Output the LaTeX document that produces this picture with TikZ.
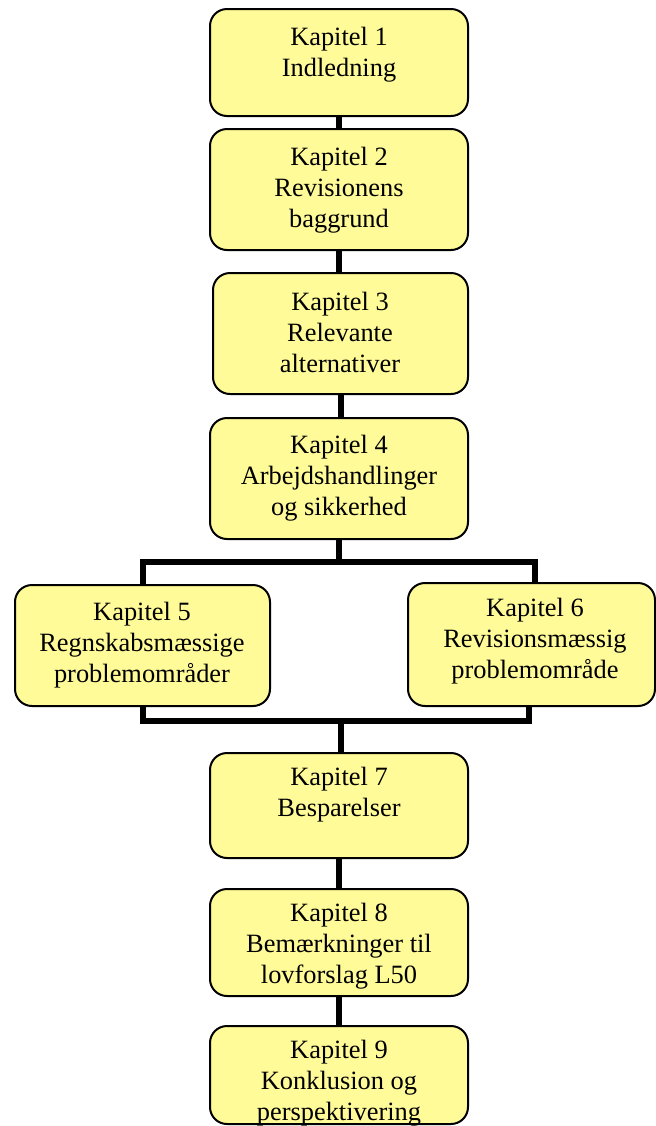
\documentclass[tikz,border=0pt]{standalone}
\usepackage{fontspec}
\setmainfont{Liberation Serif}
\definecolor{boxfill}{RGB}{255,251,153}
\tikzset{
  chbox/.style={draw=black, line width=1pt, fill=boxfill, rounded corners=8.5pt, inner sep=0pt},
  chtext/.style={anchor=north, align=center, inner sep=0pt, font=\fontsize{13.2}{15.5}\selectfont},
  conn/.style={line width=3pt, line join=miter}
}
\begin{document}
\begin{tikzpicture}[x=0.5pt,y=-0.5pt]
\useasboundingbox (0,0) rectangle (656,1126);
% boxes
\node[chbox, minimum width=129pt, minimum height=53.5pt] (B1) at (339,62.5) {};
\node[chbox, minimum width=129pt, minimum height=60.5pt] (B2) at (339,189.5) {};
\node[chbox, minimum width=127.5pt, minimum height=60.5pt] (B3) at (340.5,333.5) {};
\node[chbox, minimum width=129pt, minimum height=60.5pt] (B4) at (339,478.5) {};
\node[chbox, minimum width=127.5pt, minimum height=60.5pt] (B5) at (142.5,645.5) {};
\node[chbox, minimum width=123.5pt, minimum height=61.5pt] (B6) at (531.5,644.5) {};
\node[chbox, minimum width=129pt, minimum height=52.5pt] (B7) at (339,805.5) {};
\node[chbox, minimum width=129pt, minimum height=53.5pt] (B8) at (339,942.5) {};
\node[chbox, minimum width=129pt, minimum height=49pt] (B9) at (339,1075) {};
% connectors
\coordinate (J1) at (339,562);
\coordinate (J2) at (341,721);
\draw[conn] (B1.south) -- (B2.north);
\draw[conn] (B2.south) -- (B2.south |- B3.north);
\draw[conn] (B3.south) -- (B3.south |- B4.north);
\draw[conn] (B4.south) -- (J1);
\draw[conn] (B5.north) |- (J1) -| ([xshift=1.75pt]B6.north);
\draw[conn] (B5.south) |- (J2) -| ([xshift=-1.25pt]B6.south);
\draw[conn] (J2) -- (J2 |- B7.north);
\draw[conn] (B7.south) -- (B8.north);
\draw[conn] (B8.south) -- (B9.north);
% texts
\node[chtext] (T1) at (339,27) {Kapitel 1\\Indledning};
\node[chtext] (T2) at (339,147) {Kapitel 2\\Revisionens\\baggrund};
\node[chtext] (T3) at (340,292) {Kapitel 3\\Relevante\\alternativer};
\node[chtext] (T4) at (339,435) {Kapitel 4\\Arbejdshandlinger\\og sikkerhed};
\node[chtext] (T5) at (142,602) {Kapitel 5\\Regnskabsmæssige\\problemområder};
\node[chtext] (T6) at (535,598) {Kapitel 6\\Revisionsmæssig\\problemområde};
\node[chtext] (T7) at (339,767) {Kapitel 7\\Besparelser};
\node[chtext] (T8) at (339,903) {Kapitel 8\\Bemærkninger til\\lovforslag L50};
\node[chtext] (T9) at (339,1040) {Kapitel 9\\Konklusion og\\perspektivering};
\end{tikzpicture}
\end{document}
